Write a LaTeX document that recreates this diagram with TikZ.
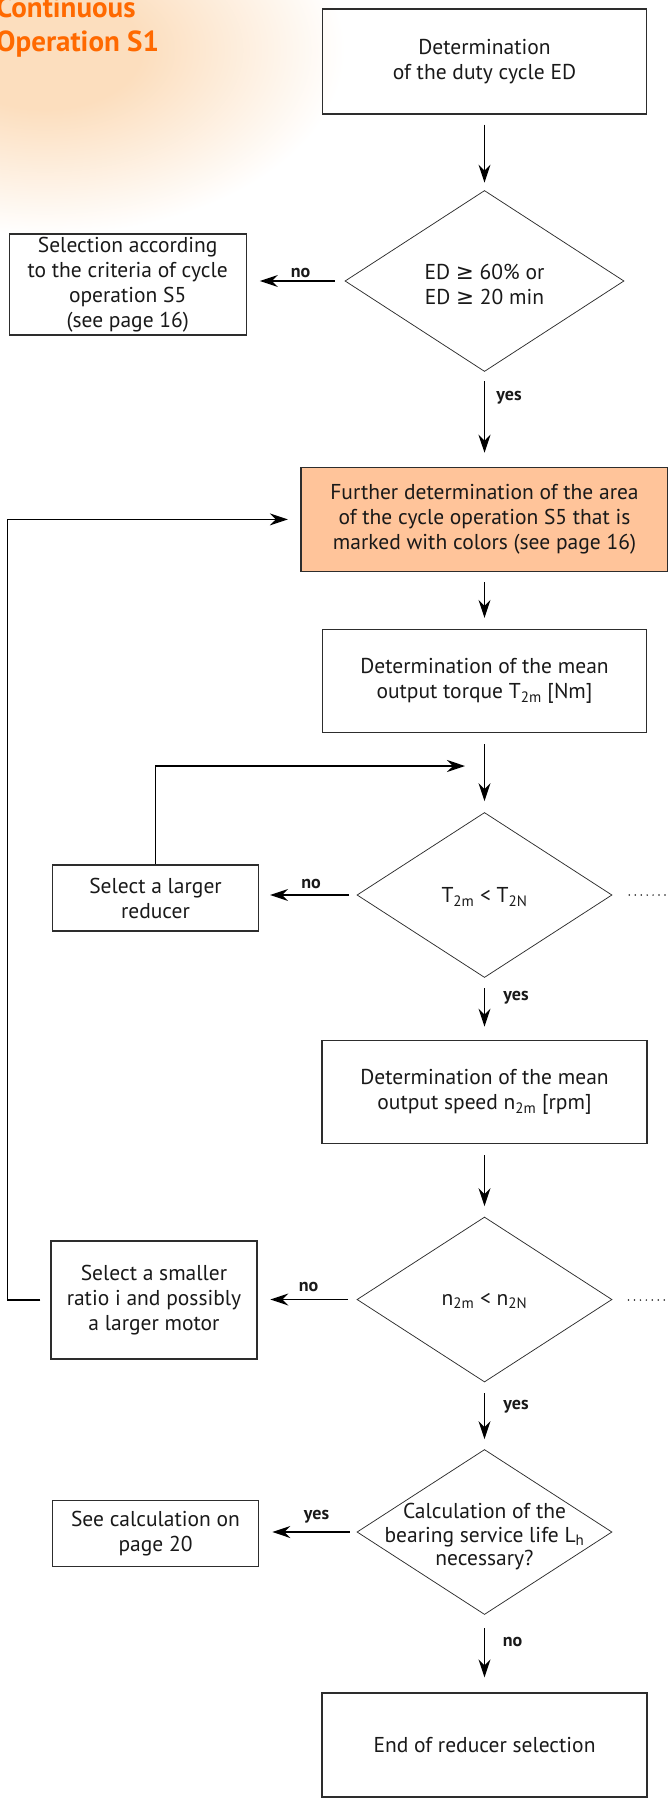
\documentclass[tikz,border=0pt]{standalone}
\usepackage{fontspec}
\setmainfont{PT Sans}
\newfontfamily\symf{DejaVu Sans}
\usetikzlibrary{shapes.geometric,arrows.meta}
\definecolor{ttl}{RGB}{255,105,0}
\definecolor{peach}{RGB}{255,196,154}
\definecolor{glowc}{RGB}{252,222,190}
\definecolor{ln}{RGB}{45,45,45}
\definecolor{txc}{RGB}{25,25,25}
\pgfdeclareradialshading{glowshade}{\pgfpoint{0bp}{0bp}}{color(0bp)=(glowc); color(8bp)=(glowc); color(25bp)=(white); color(50bp)=(white)}
\newcommand\mybody{\fontsize{21.5}{25}\selectfont}
\newcommand\mylbl{\fontsize{18}{20}\selectfont\bfseries}
\newcommand\myttl{\fontsize{29}{32}\selectfont\bfseries}
\begin{document}
\begin{tikzpicture}[x=1pt,y=-1pt,
  box/.style={draw=ln, line width=1.3pt, align=center, font=\mybody, text=txc, inner sep=0pt},
  dia/.style={draw=ln, line width=0.75pt, shape=diamond, inner sep=0pt, minimum width=255pt, minimum height=165pt},
  txt/.style={align=center, font=\mybody, text=txc, inner sep=0pt},
  lbl/.style={font=\mylbl, text=txc, inner sep=0pt, anchor=base},
  arr/.style={draw=black, line width=1.3pt, -{Stealth[length=18pt,width=12pt,inset=6pt]}},
  dotl/.style={draw=txc, line width=1.7pt, line cap=round, dash pattern=on 0pt off 5.95pt},
  ttlstyle/.style={font=\myttl, text=ttl, anchor=base west, inner sep=0pt}
]
\begin{scope}
  \clip (0,0) rectangle (668,1798);
  \shade[shading=glowshade] (45,50) ellipse [x radius=300pt, y radius=185pt];
\end{scope}
\useasboundingbox (0,0) rectangle (668,1798);

\node[ttlstyle] (t1) at (-4,18) {Continuous};
\node[ttlstyle] (t2) at (-4,52) {Operation S1};

\node[box, minimum width=324pt, minimum height=105pt] (b1) at (484.5,61.5) {Determination\\of the duty cycle ED};
\node[dia, minimum width=279pt, minimum height=181pt] (d1) at (484.5,281) {};
\node[txt] (d1t) at (484.5,284) {ED {\symf ≥} 60\% or\\ED {\symf ≥} 20 min};
\node[box, minimum width=237pt, minimum height=101pt] (s5) at (127.7,284.5) {Selection according\\to the criteria of cycle\\operation S5\\(see page 16)};
\node[box, fill=peach, minimum width=367pt, minimum height=104pt] (or) at (484.5,519.4) {Further determination of the area\\of the cycle operation S5 that is\\marked with colors (see page 16)};
\node[box, minimum width=324pt, minimum height=103pt] (tq) at (484.5,681) {Determination of the mean\\output torque T\textsubscript{2m} [Nm]};
\node[dia] (d2) at (484.5,895) {};
\node[txt] (d2t) at (484.5,897) {T\textsubscript{2m} < T\textsubscript{2N}};
\node[box, minimum width=206pt, minimum height=66pt] (lg) at (155.5,898) {Select a larger\\reducer};
\node[box, minimum width=325pt, minimum height=103pt] (sp) at (484.5,1092.3) {Determination of the mean\\output speed n\textsubscript{2m} [rpm]};
\node[dia] (d3) at (484.5,1299.5) {};
\node[txt] (d3t) at (484.5,1301) {n\textsubscript{2m} < n\textsubscript{2N}};
\node[box, minimum width=206pt, minimum height=118pt] (sm) at (154,1300) {Select a smaller\\ratio i and possibly\\a larger motor};
\node[dia] (d4) at (484.5,1532) {};
\node[txt, font=\fontsize{21.5}{23.5}\selectfont] (d4t) at (484.5,1537) {Calculation of the\\bearing service life L\textsubscript{h}\\necessary?};
\node[box, minimum width=206pt, minimum height=66pt] (sc) at (155.5,1533.7) {See calculation on\\page 20};
\node[box, minimum width=325pt, minimum height=104pt] (en) at (484.5,1745) {End of reducer selection};

% vertical arrows
\draw[arr, shorten <=10pt, shorten >=7.5pt] (b1.south) -- (d1.north);
\draw[arr, shorten <=9.5pt, shorten >=14pt] (d1.south) -- (or.north);
\draw[arr, shorten <=10pt, shorten >=11pt] (or.south) -- (tq.north);
\draw[arr, shorten <=11pt, shorten >=11pt] (tq.south) -- (d2.north);
\draw[arr, shorten <=10.5pt, shorten >=13.5pt] (d2.south) -- (sp.north);
\draw[arr, shorten <=11pt, shorten >=10.5pt] (sp.south) -- (d3.north);
\draw[arr, shorten <=11pt, shorten >=10pt] (d3.south) -- (d4.north);
\draw[arr, shorten <=13.5pt, shorten >=15pt] (d4.south) -- (en.north);

% horizontal arrows
\draw[arr, shorten <=10pt, shorten >=13pt] (d1.west) -- (d1.west -| s5.east);
\draw[arr, shorten <=7.6pt, shorten >=11pt] (d2.west) -- (d2.west -| lg.east);
\draw[arr, shorten <=8.5pt, shorten >=12.7pt] (d3.west) -- (d3.west -| sm.east);
\draw[arr, shorten <=7pt, shorten >=13.2pt] (d4.west) -- (d4.west -| sc.east);

% feedback loops
\coordinate (j2) at (484.5,766);
\draw[arr, shorten >=19.5pt] (lg.north) |- (j2);
\coordinate (fc) at (7.7,1300);
\draw[arr, shorten <=10pt, shorten >=12.5pt] (sm.west) -- (fc) |- (or.west);

% dotted continuations
\coordinate (e2a) at (629.3,895);
\coordinate (e2b) at (668,895);
\draw[dotl] (e2a) -- (e2b);
\coordinate (e3a) at (628.5,1300);
\coordinate (e3b) at (668,1300);
\draw[dotl] (e3a) -- (e3b);

% labels
\node[lbl] (n1) at (300.5,277.5) {no};
\node[lbl] (y1) at (509,400) {yes};
\node[lbl] (n2) at (311,888) {no};
\node[lbl] (y2) at (516,1000) {yes};
\node[lbl] (n3) at (308.5,1291) {no};
\node[lbl] (y3) at (516,1409) {yes};
\node[lbl] (y4) at (316.5,1519.5) {yes};
\node[lbl] (n4) at (512.5,1646) {no};
\end{tikzpicture}
\end{document}
